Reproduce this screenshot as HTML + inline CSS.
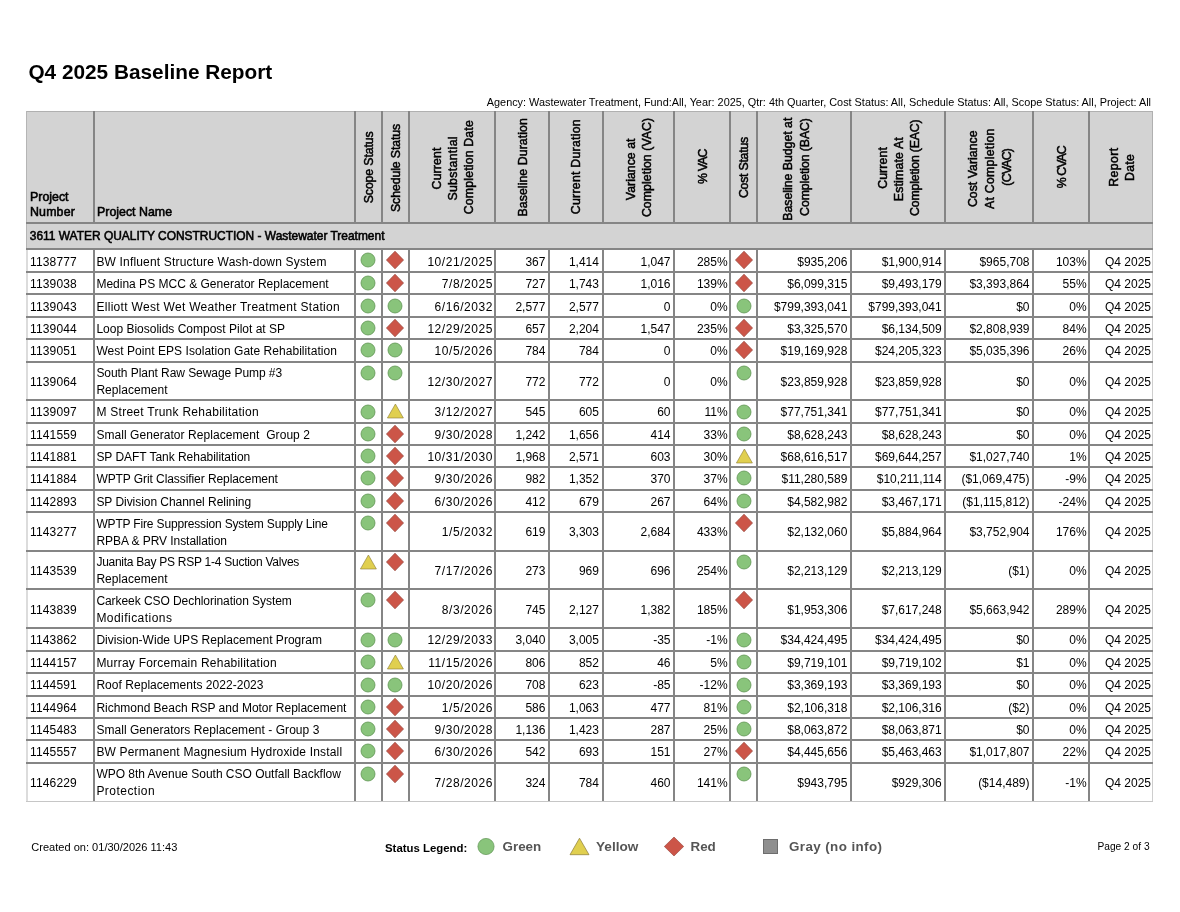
<!DOCTYPE html>
<html><head><meta charset="utf-8"><title>Q4 2025 Baseline Report</title>
<style>
html,body{margin:0;padding:0;background:#fff;}
body{width:1180px;height:912px;position:relative;overflow:hidden;font-family:"Liberation Sans", sans-serif;}
.t{position:absolute;white-space:pre;}
.b{position:absolute;}
.ic{position:absolute;overflow:visible;}
.rt{position:absolute;left:0;top:0;transform-origin:0 0;font-size:12.3px;line-height:12.3px;white-space:pre;-webkit-text-stroke:0.5px #000;}
.rh{position:absolute;display:flex;align-items:center;justify-content:center;text-align:center;-webkit-text-stroke:0.45px #000;white-space:pre;transform:rotate(-90deg);}
</style></head><body><div style="position:absolute;left:0;top:0;width:1180px;height:912px;background:#fff;will-change:transform">

<div class="t" style="top:61.79px;font-size:20.8px;line-height:20.8px;color:#000;font-weight:bold;left:28.40px;">Q4 2025 Baseline Report</div>
<div class="t" style="top:97.11px;font-size:10.86px;line-height:10.86px;color:#000;left:151.00px;width:1000px;text-align:right;">Agency: Wastewater Treatment, Fund:All, Year: 2025, Qtr: 4th Quarter, Cost Status: All, Schedule Status: All, Scope Status: All, Project: All</div>
<div class="b" style="left:26.40px;top:111.00px;width:1126.20px;height:138.10px;background:#d3d3d3"></div>
<div class="b" style="left:26px;top:111px;width:1127px;height:1px;background:#b0b0b0"></div>
<div class="b" style="left:26px;top:111px;width:1px;height:138px;background:#b5b5b5"></div>
<div class="b" style="left:1152px;top:111px;width:1px;height:138px;background:#b0b0b0"></div>
<div class="b" style="left:26px;top:249px;width:2px;height:553px;background:#dcdcdc"></div>
<div class="b" style="left:1152px;top:249px;width:1px;height:553px;background:#cecece"></div>
<div class="b" style="left:26px;top:801px;width:1127px;height:1px;background:#c6c6c6"></div>
<div class="b" style="left:93.00px;top:111.00px;width:2px;height:111.90px;background:#858585"></div>
<div class="b" style="left:353.60px;top:111.00px;width:2px;height:111.90px;background:#858585"></div>
<div class="b" style="left:380.60px;top:111.00px;width:2px;height:111.90px;background:#858585"></div>
<div class="b" style="left:407.80px;top:111.00px;width:2px;height:111.90px;background:#858585"></div>
<div class="b" style="left:494.20px;top:111.00px;width:2px;height:111.90px;background:#858585"></div>
<div class="b" style="left:548.00px;top:111.00px;width:2px;height:111.90px;background:#858585"></div>
<div class="b" style="left:601.50px;top:111.00px;width:2px;height:111.90px;background:#858585"></div>
<div class="b" style="left:673.10px;top:111.00px;width:2px;height:111.90px;background:#858585"></div>
<div class="b" style="left:729.10px;top:111.00px;width:2px;height:111.90px;background:#858585"></div>
<div class="b" style="left:755.90px;top:111.00px;width:2px;height:111.90px;background:#858585"></div>
<div class="b" style="left:849.90px;top:111.00px;width:2px;height:111.90px;background:#858585"></div>
<div class="b" style="left:944.30px;top:111.00px;width:2px;height:111.90px;background:#858585"></div>
<div class="b" style="left:1032.10px;top:111.00px;width:2px;height:111.90px;background:#858585"></div>
<div class="b" style="left:1088.10px;top:111.00px;width:2px;height:111.90px;background:#858585"></div>
<div class="b" style="left:93.00px;top:249.10px;width:2px;height:552.30px;background:#858585"></div>
<div class="b" style="left:353.60px;top:249.10px;width:2px;height:552.30px;background:#858585"></div>
<div class="b" style="left:380.60px;top:249.10px;width:2px;height:552.30px;background:#858585"></div>
<div class="b" style="left:407.80px;top:249.10px;width:2px;height:552.30px;background:#858585"></div>
<div class="b" style="left:494.20px;top:249.10px;width:2px;height:552.30px;background:#858585"></div>
<div class="b" style="left:548.00px;top:249.10px;width:2px;height:552.30px;background:#858585"></div>
<div class="b" style="left:601.50px;top:249.10px;width:2px;height:552.30px;background:#858585"></div>
<div class="b" style="left:673.10px;top:249.10px;width:2px;height:552.30px;background:#858585"></div>
<div class="b" style="left:729.10px;top:249.10px;width:2px;height:552.30px;background:#858585"></div>
<div class="b" style="left:755.90px;top:249.10px;width:2px;height:552.30px;background:#858585"></div>
<div class="b" style="left:849.90px;top:249.10px;width:2px;height:552.30px;background:#858585"></div>
<div class="b" style="left:944.30px;top:249.10px;width:2px;height:552.30px;background:#858585"></div>
<div class="b" style="left:1032.10px;top:249.10px;width:2px;height:552.30px;background:#858585"></div>
<div class="b" style="left:1088.10px;top:249.10px;width:2px;height:552.30px;background:#858585"></div>
<div class="b" style="left:26.40px;top:221.90px;width:1126.20px;height:2px;background:#858585"></div>
<div class="b" style="left:26.40px;top:248.10px;width:1126.20px;height:2px;background:#858585"></div>
<div class="b" style="left:26.40px;top:271.10px;width:1126.20px;height:2px;background:#858585"></div>
<div class="b" style="left:26.40px;top:293.40px;width:1126.20px;height:2px;background:#858585"></div>
<div class="b" style="left:26.40px;top:315.80px;width:1126.20px;height:2px;background:#858585"></div>
<div class="b" style="left:26.40px;top:338.10px;width:1126.20px;height:2px;background:#858585"></div>
<div class="b" style="left:26.40px;top:360.50px;width:1126.20px;height:2px;background:#858585"></div>
<div class="b" style="left:26.40px;top:399.30px;width:1126.20px;height:2px;background:#858585"></div>
<div class="b" style="left:26.40px;top:421.60px;width:1126.20px;height:2px;background:#858585"></div>
<div class="b" style="left:26.40px;top:443.90px;width:1126.20px;height:2px;background:#858585"></div>
<div class="b" style="left:26.40px;top:465.90px;width:1126.20px;height:2px;background:#858585"></div>
<div class="b" style="left:26.40px;top:488.70px;width:1126.20px;height:2px;background:#858585"></div>
<div class="b" style="left:26.40px;top:510.90px;width:1126.20px;height:2px;background:#858585"></div>
<div class="b" style="left:26.40px;top:549.50px;width:1126.20px;height:2px;background:#858585"></div>
<div class="b" style="left:26.40px;top:588.00px;width:1126.20px;height:2px;background:#858585"></div>
<div class="b" style="left:26.40px;top:627.40px;width:1126.20px;height:2px;background:#858585"></div>
<div class="b" style="left:26.40px;top:649.60px;width:1126.20px;height:2px;background:#858585"></div>
<div class="b" style="left:26.40px;top:672.30px;width:1126.20px;height:2px;background:#858585"></div>
<div class="b" style="left:26.40px;top:694.50px;width:1126.20px;height:2px;background:#858585"></div>
<div class="b" style="left:26.40px;top:717.00px;width:1126.20px;height:2px;background:#858585"></div>
<div class="b" style="left:26.40px;top:739.20px;width:1126.20px;height:2px;background:#858585"></div>
<div class="b" style="left:26.40px;top:761.50px;width:1126.20px;height:2px;background:#858585"></div>
<div class="t" style="top:190.50px;font-size:12.4px;line-height:12.4px;color:#000;-webkit-text-stroke:0.55px #000;left:30.00px;">Project</div>
<div class="t" style="top:206.40px;font-size:12.4px;line-height:12.4px;color:#000;letter-spacing:0.15px;-webkit-text-stroke:0.55px #000;left:30.00px;">Number</div>
<div class="t" style="top:206.40px;font-size:12.4px;line-height:12.4px;color:#000;-webkit-text-stroke:0.55px #000;left:97.00px;">Project Name</div>
<div class="rt" style="transform:translate(362.8px,203.2px) rotate(-90deg);letter-spacing:-0.127px">Scope Status</div>
<div class="rt" style="transform:translate(389.7px,212.0px) rotate(-90deg);letter-spacing:-0.093px">Schedule Status</div>
<div class="rt" style="transform:translate(431.0px,189.4px) rotate(-90deg);letter-spacing:0.15px">Current</div>
<div class="rt" style="transform:translate(446.9px,200.6px) rotate(-90deg);letter-spacing:0.33px">Substantial</div>
<div class="rt" style="transform:translate(463.4px,214.2px) rotate(-90deg);letter-spacing:0.171px">Completion Date</div>
<div class="rt" style="transform:translate(517.0px,216.5px) rotate(-90deg);letter-spacing:0.075px">Baseline Duration</div>
<div class="rt" style="transform:translate(570.4px,214.2px) rotate(-90deg);letter-spacing:0.267px">Current Duration</div>
<div class="rt" style="transform:translate(624.8px,200.2px) rotate(-90deg);letter-spacing:0.04px">Variance at</div>
<div class="rt" style="transform:translate(641.0px,217.1px) rotate(-90deg);letter-spacing:0.067px">Completion (VAC)</div>
<div class="rt" style="transform:translate(696.6px,183.9px) rotate(-90deg);letter-spacing:-0.85px">% VAC</div>
<div class="rt" style="transform:translate(738.0px,198.1px) rotate(-90deg);letter-spacing:-0.23px">Cost Status</div>
<div class="rt" style="transform:translate(782.4px,220.7px) rotate(-90deg);letter-spacing:-0.012px">Baseline Budget at</div>
<div class="rt" style="transform:translate(798.8px,215.9px) rotate(-90deg);letter-spacing:-0.087px">Completion (BAC)</div>
<div class="rt" style="transform:translate(877.3px,188.8px) rotate(-90deg);letter-spacing:0.1px">Current</div>
<div class="rt" style="transform:translate(893.0px,201.2px) rotate(-90deg);letter-spacing:0.17px">Estimate At</div>
<div class="rt" style="transform:translate(909.4px,215.9px) rotate(-90deg);letter-spacing:-0.173px">Completion (EAC)</div>
<div class="rt" style="transform:translate(967.4px,207.1px) rotate(-90deg);letter-spacing:0.025px">Cost Variance</div>
<div class="rt" style="transform:translate(983.8px,209.0px) rotate(-90deg);letter-spacing:0.258px">At Completion</div>
<div class="rt" style="transform:translate(1000.8px,185.7px) rotate(-90deg);letter-spacing:-0.76px">(CVAC)</div>
<div class="rt" style="transform:translate(1056.1px,188.2px) rotate(-90deg);letter-spacing:-0.94px">% CVAC</div>
<div class="rt" style="transform:translate(1107.8px,186.7px) rotate(-90deg);letter-spacing:0.38px">Report</div>
<div class="rt" style="transform:translate(1124.2px,181.0px) rotate(-90deg);letter-spacing:0.3px">Date</div>
<div class="t" style="top:231.39px;font-size:11.94px;line-height:11.94px;color:#000;-webkit-text-stroke:0.55px #000;left:29.80px;">3611 WATER QUALITY CONSTRUCTION - Wastewater Treatment</div>
<div class="t" style="top:255.56px;font-size:12.0px;line-height:12.0px;color:#000;letter-spacing:0.12px;left:30.10px;">1138777</div>
<div class="t" style="top:255.56px;font-size:12.0px;line-height:12.0px;color:#000;letter-spacing:0.173px;left:96.40px;">BW Influent Structure Wash-down System</div>
<svg class="ic" style="left:359.10px;top:251.30px" width="18" height="18" viewBox="0 0 18 18"><circle cx="9" cy="9" r="7.0" fill="#89c47b" stroke="#5f9453" stroke-width="0.8"/></svg>
<svg class="ic" style="left:385.20px;top:250.10px" width="20" height="20" viewBox="0 0 20 20"><polygon points="10,1.1999999999999993 18.536,10 10,18.8 1.4640000000000004,10" fill="#cc5548" stroke="#94433a" stroke-width="0.7"/></svg>
<svg class="ic" style="left:733.50px;top:250.10px" width="20" height="20" viewBox="0 0 20 20"><polygon points="10,1.1999999999999993 18.536,10 10,18.8 1.4640000000000004,10" fill="#cc5548" stroke="#94433a" stroke-width="0.7"/></svg>
<div class="t" style="top:255.56px;font-size:12.0px;line-height:12.0px;color:#000;letter-spacing:0.55px;left:-507.05px;width:1000px;text-align:right;">10/21/2025</div>
<div class="t" style="top:255.56px;font-size:12.0px;line-height:12.0px;color:#000;left:-454.60px;width:1000px;text-align:right;">367</div>
<div class="t" style="top:255.56px;font-size:12.0px;line-height:12.0px;color:#000;left:-401.10px;width:1000px;text-align:right;">1,414</div>
<div class="t" style="top:255.56px;font-size:12.0px;line-height:12.0px;color:#000;left:-329.50px;width:1000px;text-align:right;">1,047</div>
<div class="t" style="top:255.56px;font-size:12.0px;line-height:12.0px;color:#000;left:-272.40px;width:1000px;text-align:right;">285%</div>
<div class="t" style="top:255.56px;font-size:12.0px;line-height:12.0px;color:#000;left:-152.70px;width:1000px;text-align:right;">$935,206</div>
<div class="t" style="top:255.56px;font-size:12.0px;line-height:12.0px;color:#000;left:-58.30px;width:1000px;text-align:right;">$1,900,914</div>
<div class="t" style="top:255.56px;font-size:12.0px;line-height:12.0px;color:#000;left:29.50px;width:1000px;text-align:right;">$965,708</div>
<div class="t" style="top:255.56px;font-size:12.0px;line-height:12.0px;color:#000;left:86.60px;width:1000px;text-align:right;">103%</div>
<div class="t" style="top:255.56px;font-size:12.0px;line-height:12.0px;color:#000;left:151.00px;width:1000px;text-align:right;">Q4 2025</div>
<div class="t" style="top:278.21px;font-size:12.0px;line-height:12.0px;color:#000;letter-spacing:0.12px;left:30.10px;">1139038</div>
<div class="t" style="top:278.21px;font-size:12.0px;line-height:12.0px;color:#000;letter-spacing:0.006px;left:96.40px;">Medina PS MCC &amp; Generator Replacement</div>
<svg class="ic" style="left:359.10px;top:274.30px" width="18" height="18" viewBox="0 0 18 18"><circle cx="9" cy="9" r="7.0" fill="#89c47b" stroke="#5f9453" stroke-width="0.8"/></svg>
<svg class="ic" style="left:385.20px;top:273.10px" width="20" height="20" viewBox="0 0 20 20"><polygon points="10,1.1999999999999993 18.536,10 10,18.8 1.4640000000000004,10" fill="#cc5548" stroke="#94433a" stroke-width="0.7"/></svg>
<svg class="ic" style="left:733.50px;top:273.10px" width="20" height="20" viewBox="0 0 20 20"><polygon points="10,1.1999999999999993 18.536,10 10,18.8 1.4640000000000004,10" fill="#cc5548" stroke="#94433a" stroke-width="0.7"/></svg>
<div class="t" style="top:278.21px;font-size:12.0px;line-height:12.0px;color:#000;letter-spacing:0.55px;left:-507.05px;width:1000px;text-align:right;">7/8/2025</div>
<div class="t" style="top:278.21px;font-size:12.0px;line-height:12.0px;color:#000;left:-454.60px;width:1000px;text-align:right;">727</div>
<div class="t" style="top:278.21px;font-size:12.0px;line-height:12.0px;color:#000;left:-401.10px;width:1000px;text-align:right;">1,743</div>
<div class="t" style="top:278.21px;font-size:12.0px;line-height:12.0px;color:#000;left:-329.50px;width:1000px;text-align:right;">1,016</div>
<div class="t" style="top:278.21px;font-size:12.0px;line-height:12.0px;color:#000;left:-272.40px;width:1000px;text-align:right;">139%</div>
<div class="t" style="top:278.21px;font-size:12.0px;line-height:12.0px;color:#000;left:-152.70px;width:1000px;text-align:right;">$6,099,315</div>
<div class="t" style="top:278.21px;font-size:12.0px;line-height:12.0px;color:#000;left:-58.30px;width:1000px;text-align:right;">$9,493,179</div>
<div class="t" style="top:278.21px;font-size:12.0px;line-height:12.0px;color:#000;left:29.50px;width:1000px;text-align:right;">$3,393,864</div>
<div class="t" style="top:278.21px;font-size:12.0px;line-height:12.0px;color:#000;left:86.60px;width:1000px;text-align:right;">55%</div>
<div class="t" style="top:278.21px;font-size:12.0px;line-height:12.0px;color:#000;left:151.00px;width:1000px;text-align:right;">Q4 2025</div>
<div class="t" style="top:300.56px;font-size:12.0px;line-height:12.0px;color:#000;letter-spacing:0.12px;left:30.10px;">1139043</div>
<div class="t" style="top:300.56px;font-size:12.0px;line-height:12.0px;color:#000;letter-spacing:0.307px;left:96.40px;">Elliott West Wet Weather Treatment Station</div>
<svg class="ic" style="left:359.10px;top:296.60px" width="18" height="18" viewBox="0 0 18 18"><circle cx="9" cy="9" r="7.0" fill="#89c47b" stroke="#5f9453" stroke-width="0.8"/></svg>
<svg class="ic" style="left:386.20px;top:296.60px" width="18" height="18" viewBox="0 0 18 18"><circle cx="9" cy="9" r="7.0" fill="#89c47b" stroke="#5f9453" stroke-width="0.8"/></svg>
<svg class="ic" style="left:734.50px;top:296.60px" width="18" height="18" viewBox="0 0 18 18"><circle cx="9" cy="9" r="7.0" fill="#89c47b" stroke="#5f9453" stroke-width="0.8"/></svg>
<div class="t" style="top:300.56px;font-size:12.0px;line-height:12.0px;color:#000;letter-spacing:0.55px;left:-507.05px;width:1000px;text-align:right;">6/16/2032</div>
<div class="t" style="top:300.56px;font-size:12.0px;line-height:12.0px;color:#000;left:-454.60px;width:1000px;text-align:right;">2,577</div>
<div class="t" style="top:300.56px;font-size:12.0px;line-height:12.0px;color:#000;left:-401.10px;width:1000px;text-align:right;">2,577</div>
<div class="t" style="top:300.56px;font-size:12.0px;line-height:12.0px;color:#000;left:-329.50px;width:1000px;text-align:right;">0</div>
<div class="t" style="top:300.56px;font-size:12.0px;line-height:12.0px;color:#000;left:-272.40px;width:1000px;text-align:right;">0%</div>
<div class="t" style="top:300.56px;font-size:12.0px;line-height:12.0px;color:#000;left:-152.70px;width:1000px;text-align:right;">$799,393,041</div>
<div class="t" style="top:300.56px;font-size:12.0px;line-height:12.0px;color:#000;left:-58.30px;width:1000px;text-align:right;">$799,393,041</div>
<div class="t" style="top:300.56px;font-size:12.0px;line-height:12.0px;color:#000;left:29.50px;width:1000px;text-align:right;">$0</div>
<div class="t" style="top:300.56px;font-size:12.0px;line-height:12.0px;color:#000;left:86.60px;width:1000px;text-align:right;">0%</div>
<div class="t" style="top:300.56px;font-size:12.0px;line-height:12.0px;color:#000;left:151.00px;width:1000px;text-align:right;">Q4 2025</div>
<div class="t" style="top:322.91px;font-size:12.0px;line-height:12.0px;color:#000;letter-spacing:0.12px;left:30.10px;">1139044</div>
<div class="t" style="top:322.91px;font-size:12.0px;line-height:12.0px;color:#000;letter-spacing:-0.006px;left:96.40px;">Loop Biosolids Compost Pilot at SP</div>
<svg class="ic" style="left:359.10px;top:319.00px" width="18" height="18" viewBox="0 0 18 18"><circle cx="9" cy="9" r="7.0" fill="#89c47b" stroke="#5f9453" stroke-width="0.8"/></svg>
<svg class="ic" style="left:385.20px;top:317.80px" width="20" height="20" viewBox="0 0 20 20"><polygon points="10,1.1999999999999993 18.536,10 10,18.8 1.4640000000000004,10" fill="#cc5548" stroke="#94433a" stroke-width="0.7"/></svg>
<svg class="ic" style="left:733.50px;top:317.80px" width="20" height="20" viewBox="0 0 20 20"><polygon points="10,1.1999999999999993 18.536,10 10,18.8 1.4640000000000004,10" fill="#cc5548" stroke="#94433a" stroke-width="0.7"/></svg>
<div class="t" style="top:322.91px;font-size:12.0px;line-height:12.0px;color:#000;letter-spacing:0.55px;left:-507.05px;width:1000px;text-align:right;">12/29/2025</div>
<div class="t" style="top:322.91px;font-size:12.0px;line-height:12.0px;color:#000;left:-454.60px;width:1000px;text-align:right;">657</div>
<div class="t" style="top:322.91px;font-size:12.0px;line-height:12.0px;color:#000;left:-401.10px;width:1000px;text-align:right;">2,204</div>
<div class="t" style="top:322.91px;font-size:12.0px;line-height:12.0px;color:#000;left:-329.50px;width:1000px;text-align:right;">1,547</div>
<div class="t" style="top:322.91px;font-size:12.0px;line-height:12.0px;color:#000;left:-272.40px;width:1000px;text-align:right;">235%</div>
<div class="t" style="top:322.91px;font-size:12.0px;line-height:12.0px;color:#000;left:-152.70px;width:1000px;text-align:right;">$3,325,570</div>
<div class="t" style="top:322.91px;font-size:12.0px;line-height:12.0px;color:#000;left:-58.30px;width:1000px;text-align:right;">$6,134,509</div>
<div class="t" style="top:322.91px;font-size:12.0px;line-height:12.0px;color:#000;left:29.50px;width:1000px;text-align:right;">$2,808,939</div>
<div class="t" style="top:322.91px;font-size:12.0px;line-height:12.0px;color:#000;left:86.60px;width:1000px;text-align:right;">84%</div>
<div class="t" style="top:322.91px;font-size:12.0px;line-height:12.0px;color:#000;left:151.00px;width:1000px;text-align:right;">Q4 2025</div>
<div class="t" style="top:345.26px;font-size:12.0px;line-height:12.0px;color:#000;letter-spacing:0.12px;left:30.10px;">1139051</div>
<div class="t" style="top:345.26px;font-size:12.0px;line-height:12.0px;color:#000;letter-spacing:0.044px;left:96.40px;">West Point EPS Isolation Gate Rehabilitation</div>
<svg class="ic" style="left:359.10px;top:341.30px" width="18" height="18" viewBox="0 0 18 18"><circle cx="9" cy="9" r="7.0" fill="#89c47b" stroke="#5f9453" stroke-width="0.8"/></svg>
<svg class="ic" style="left:386.20px;top:341.30px" width="18" height="18" viewBox="0 0 18 18"><circle cx="9" cy="9" r="7.0" fill="#89c47b" stroke="#5f9453" stroke-width="0.8"/></svg>
<svg class="ic" style="left:733.50px;top:340.10px" width="20" height="20" viewBox="0 0 20 20"><polygon points="10,1.1999999999999993 18.536,10 10,18.8 1.4640000000000004,10" fill="#cc5548" stroke="#94433a" stroke-width="0.7"/></svg>
<div class="t" style="top:345.26px;font-size:12.0px;line-height:12.0px;color:#000;letter-spacing:0.55px;left:-507.05px;width:1000px;text-align:right;">10/5/2026</div>
<div class="t" style="top:345.26px;font-size:12.0px;line-height:12.0px;color:#000;left:-454.60px;width:1000px;text-align:right;">784</div>
<div class="t" style="top:345.26px;font-size:12.0px;line-height:12.0px;color:#000;left:-401.10px;width:1000px;text-align:right;">784</div>
<div class="t" style="top:345.26px;font-size:12.0px;line-height:12.0px;color:#000;left:-329.50px;width:1000px;text-align:right;">0</div>
<div class="t" style="top:345.26px;font-size:12.0px;line-height:12.0px;color:#000;left:-272.40px;width:1000px;text-align:right;">0%</div>
<div class="t" style="top:345.26px;font-size:12.0px;line-height:12.0px;color:#000;left:-152.70px;width:1000px;text-align:right;">$19,169,928</div>
<div class="t" style="top:345.26px;font-size:12.0px;line-height:12.0px;color:#000;left:-58.30px;width:1000px;text-align:right;">$24,205,323</div>
<div class="t" style="top:345.26px;font-size:12.0px;line-height:12.0px;color:#000;left:29.50px;width:1000px;text-align:right;">$5,035,396</div>
<div class="t" style="top:345.26px;font-size:12.0px;line-height:12.0px;color:#000;left:86.60px;width:1000px;text-align:right;">26%</div>
<div class="t" style="top:345.26px;font-size:12.0px;line-height:12.0px;color:#000;left:151.00px;width:1000px;text-align:right;">Q4 2025</div>
<div class="t" style="top:375.86px;font-size:12.0px;line-height:12.0px;color:#000;letter-spacing:0.12px;left:30.10px;">1139064</div>
<div class="t" style="top:367.36px;font-size:12.0px;line-height:12.0px;color:#000;letter-spacing:-0.059px;left:96.40px;">South Plant Raw Sewage Pump #3</div>
<div class="t" style="top:384.36px;font-size:12.0px;line-height:12.0px;color:#000;letter-spacing:0.04px;left:96.40px;">Replacement</div>
<svg class="ic" style="left:359.10px;top:363.70px" width="18" height="18" viewBox="0 0 18 18"><circle cx="9" cy="9" r="7.0" fill="#89c47b" stroke="#5f9453" stroke-width="0.8"/></svg>
<svg class="ic" style="left:386.20px;top:363.70px" width="18" height="18" viewBox="0 0 18 18"><circle cx="9" cy="9" r="7.0" fill="#89c47b" stroke="#5f9453" stroke-width="0.8"/></svg>
<svg class="ic" style="left:734.50px;top:363.70px" width="18" height="18" viewBox="0 0 18 18"><circle cx="9" cy="9" r="7.0" fill="#89c47b" stroke="#5f9453" stroke-width="0.8"/></svg>
<div class="t" style="top:375.86px;font-size:12.0px;line-height:12.0px;color:#000;letter-spacing:0.55px;left:-507.05px;width:1000px;text-align:right;">12/30/2027</div>
<div class="t" style="top:375.86px;font-size:12.0px;line-height:12.0px;color:#000;left:-454.60px;width:1000px;text-align:right;">772</div>
<div class="t" style="top:375.86px;font-size:12.0px;line-height:12.0px;color:#000;left:-401.10px;width:1000px;text-align:right;">772</div>
<div class="t" style="top:375.86px;font-size:12.0px;line-height:12.0px;color:#000;left:-329.50px;width:1000px;text-align:right;">0</div>
<div class="t" style="top:375.86px;font-size:12.0px;line-height:12.0px;color:#000;left:-272.40px;width:1000px;text-align:right;">0%</div>
<div class="t" style="top:375.86px;font-size:12.0px;line-height:12.0px;color:#000;left:-152.70px;width:1000px;text-align:right;">$23,859,928</div>
<div class="t" style="top:375.86px;font-size:12.0px;line-height:12.0px;color:#000;left:-58.30px;width:1000px;text-align:right;">$23,859,928</div>
<div class="t" style="top:375.86px;font-size:12.0px;line-height:12.0px;color:#000;left:29.50px;width:1000px;text-align:right;">$0</div>
<div class="t" style="top:375.86px;font-size:12.0px;line-height:12.0px;color:#000;left:86.60px;width:1000px;text-align:right;">0%</div>
<div class="t" style="top:375.86px;font-size:12.0px;line-height:12.0px;color:#000;left:151.00px;width:1000px;text-align:right;">Q4 2025</div>
<div class="t" style="top:406.41px;font-size:12.0px;line-height:12.0px;color:#000;letter-spacing:0.12px;left:30.10px;">1139097</div>
<div class="t" style="top:406.41px;font-size:12.0px;line-height:12.0px;color:#000;letter-spacing:0.268px;left:96.40px;">M Street Trunk Rehabilitation</div>
<svg class="ic" style="left:359.10px;top:402.50px" width="18" height="18" viewBox="0 0 18 18"><circle cx="9" cy="9" r="7.0" fill="#89c47b" stroke="#5f9453" stroke-width="0.8"/></svg>
<svg class="ic" style="left:385.20px;top:401.30px" width="20" height="20" viewBox="0 0 20 20"><polygon points="10.4,3.0 18.4,17.0 2.4,17.0" fill="#e0cf4f" stroke="#8a7a36" stroke-width="0.6"/></svg>
<svg class="ic" style="left:734.50px;top:402.50px" width="18" height="18" viewBox="0 0 18 18"><circle cx="9" cy="9" r="7.0" fill="#89c47b" stroke="#5f9453" stroke-width="0.8"/></svg>
<div class="t" style="top:406.41px;font-size:12.0px;line-height:12.0px;color:#000;letter-spacing:0.55px;left:-507.05px;width:1000px;text-align:right;">3/12/2027</div>
<div class="t" style="top:406.41px;font-size:12.0px;line-height:12.0px;color:#000;left:-454.60px;width:1000px;text-align:right;">545</div>
<div class="t" style="top:406.41px;font-size:12.0px;line-height:12.0px;color:#000;left:-401.10px;width:1000px;text-align:right;">605</div>
<div class="t" style="top:406.41px;font-size:12.0px;line-height:12.0px;color:#000;left:-329.50px;width:1000px;text-align:right;">60</div>
<div class="t" style="top:406.41px;font-size:12.0px;line-height:12.0px;color:#000;left:-272.40px;width:1000px;text-align:right;">11%</div>
<div class="t" style="top:406.41px;font-size:12.0px;line-height:12.0px;color:#000;left:-152.70px;width:1000px;text-align:right;">$77,751,341</div>
<div class="t" style="top:406.41px;font-size:12.0px;line-height:12.0px;color:#000;left:-58.30px;width:1000px;text-align:right;">$77,751,341</div>
<div class="t" style="top:406.41px;font-size:12.0px;line-height:12.0px;color:#000;left:29.50px;width:1000px;text-align:right;">$0</div>
<div class="t" style="top:406.41px;font-size:12.0px;line-height:12.0px;color:#000;left:86.60px;width:1000px;text-align:right;">0%</div>
<div class="t" style="top:406.41px;font-size:12.0px;line-height:12.0px;color:#000;left:151.00px;width:1000px;text-align:right;">Q4 2025</div>
<div class="t" style="top:428.71px;font-size:12.0px;line-height:12.0px;color:#000;letter-spacing:0.12px;left:30.10px;">1141559</div>
<div class="t" style="top:428.71px;font-size:12.0px;line-height:12.0px;color:#000;letter-spacing:0.06px;left:96.40px;">Small Generator Replacement  Group 2</div>
<svg class="ic" style="left:359.10px;top:424.80px" width="18" height="18" viewBox="0 0 18 18"><circle cx="9" cy="9" r="7.0" fill="#89c47b" stroke="#5f9453" stroke-width="0.8"/></svg>
<svg class="ic" style="left:385.20px;top:423.60px" width="20" height="20" viewBox="0 0 20 20"><polygon points="10,1.1999999999999993 18.536,10 10,18.8 1.4640000000000004,10" fill="#cc5548" stroke="#94433a" stroke-width="0.7"/></svg>
<svg class="ic" style="left:734.50px;top:424.80px" width="18" height="18" viewBox="0 0 18 18"><circle cx="9" cy="9" r="7.0" fill="#89c47b" stroke="#5f9453" stroke-width="0.8"/></svg>
<div class="t" style="top:428.71px;font-size:12.0px;line-height:12.0px;color:#000;letter-spacing:0.55px;left:-507.05px;width:1000px;text-align:right;">9/30/2028</div>
<div class="t" style="top:428.71px;font-size:12.0px;line-height:12.0px;color:#000;left:-454.60px;width:1000px;text-align:right;">1,242</div>
<div class="t" style="top:428.71px;font-size:12.0px;line-height:12.0px;color:#000;left:-401.10px;width:1000px;text-align:right;">1,656</div>
<div class="t" style="top:428.71px;font-size:12.0px;line-height:12.0px;color:#000;left:-329.50px;width:1000px;text-align:right;">414</div>
<div class="t" style="top:428.71px;font-size:12.0px;line-height:12.0px;color:#000;left:-272.40px;width:1000px;text-align:right;">33%</div>
<div class="t" style="top:428.71px;font-size:12.0px;line-height:12.0px;color:#000;left:-152.70px;width:1000px;text-align:right;">$8,628,243</div>
<div class="t" style="top:428.71px;font-size:12.0px;line-height:12.0px;color:#000;left:-58.30px;width:1000px;text-align:right;">$8,628,243</div>
<div class="t" style="top:428.71px;font-size:12.0px;line-height:12.0px;color:#000;left:29.50px;width:1000px;text-align:right;">$0</div>
<div class="t" style="top:428.71px;font-size:12.0px;line-height:12.0px;color:#000;left:86.60px;width:1000px;text-align:right;">0%</div>
<div class="t" style="top:428.71px;font-size:12.0px;line-height:12.0px;color:#000;left:151.00px;width:1000px;text-align:right;">Q4 2025</div>
<div class="t" style="top:450.86px;font-size:12.0px;line-height:12.0px;color:#000;letter-spacing:0.12px;left:30.10px;">1141881</div>
<div class="t" style="top:450.86px;font-size:12.0px;line-height:12.0px;color:#000;letter-spacing:-0.035px;left:96.40px;">SP DAFT Tank Rehabilitation</div>
<svg class="ic" style="left:359.10px;top:447.10px" width="18" height="18" viewBox="0 0 18 18"><circle cx="9" cy="9" r="7.0" fill="#89c47b" stroke="#5f9453" stroke-width="0.8"/></svg>
<svg class="ic" style="left:385.20px;top:445.90px" width="20" height="20" viewBox="0 0 20 20"><polygon points="10,1.1999999999999993 18.536,10 10,18.8 1.4640000000000004,10" fill="#cc5548" stroke="#94433a" stroke-width="0.7"/></svg>
<svg class="ic" style="left:733.50px;top:445.90px" width="20" height="20" viewBox="0 0 20 20"><polygon points="10.4,3.0 18.4,17.0 2.4,17.0" fill="#e0cf4f" stroke="#8a7a36" stroke-width="0.6"/></svg>
<div class="t" style="top:450.86px;font-size:12.0px;line-height:12.0px;color:#000;letter-spacing:0.55px;left:-507.05px;width:1000px;text-align:right;">10/31/2030</div>
<div class="t" style="top:450.86px;font-size:12.0px;line-height:12.0px;color:#000;left:-454.60px;width:1000px;text-align:right;">1,968</div>
<div class="t" style="top:450.86px;font-size:12.0px;line-height:12.0px;color:#000;left:-401.10px;width:1000px;text-align:right;">2,571</div>
<div class="t" style="top:450.86px;font-size:12.0px;line-height:12.0px;color:#000;left:-329.50px;width:1000px;text-align:right;">603</div>
<div class="t" style="top:450.86px;font-size:12.0px;line-height:12.0px;color:#000;left:-272.40px;width:1000px;text-align:right;">30%</div>
<div class="t" style="top:450.86px;font-size:12.0px;line-height:12.0px;color:#000;left:-152.70px;width:1000px;text-align:right;">$68,616,517</div>
<div class="t" style="top:450.86px;font-size:12.0px;line-height:12.0px;color:#000;left:-58.30px;width:1000px;text-align:right;">$69,644,257</div>
<div class="t" style="top:450.86px;font-size:12.0px;line-height:12.0px;color:#000;left:29.50px;width:1000px;text-align:right;">$1,027,740</div>
<div class="t" style="top:450.86px;font-size:12.0px;line-height:12.0px;color:#000;left:86.60px;width:1000px;text-align:right;">1%</div>
<div class="t" style="top:450.86px;font-size:12.0px;line-height:12.0px;color:#000;left:151.00px;width:1000px;text-align:right;">Q4 2025</div>
<div class="t" style="top:473.26px;font-size:12.0px;line-height:12.0px;color:#000;letter-spacing:0.12px;left:30.10px;">1141884</div>
<div class="t" style="top:473.26px;font-size:12.0px;line-height:12.0px;color:#000;letter-spacing:-0.077px;left:96.40px;">WPTP Grit Classifier Replacement</div>
<svg class="ic" style="left:359.10px;top:469.10px" width="18" height="18" viewBox="0 0 18 18"><circle cx="9" cy="9" r="7.0" fill="#89c47b" stroke="#5f9453" stroke-width="0.8"/></svg>
<svg class="ic" style="left:385.20px;top:467.90px" width="20" height="20" viewBox="0 0 20 20"><polygon points="10,1.1999999999999993 18.536,10 10,18.8 1.4640000000000004,10" fill="#cc5548" stroke="#94433a" stroke-width="0.7"/></svg>
<svg class="ic" style="left:734.50px;top:469.10px" width="18" height="18" viewBox="0 0 18 18"><circle cx="9" cy="9" r="7.0" fill="#89c47b" stroke="#5f9453" stroke-width="0.8"/></svg>
<div class="t" style="top:473.26px;font-size:12.0px;line-height:12.0px;color:#000;letter-spacing:0.55px;left:-507.05px;width:1000px;text-align:right;">9/30/2026</div>
<div class="t" style="top:473.26px;font-size:12.0px;line-height:12.0px;color:#000;left:-454.60px;width:1000px;text-align:right;">982</div>
<div class="t" style="top:473.26px;font-size:12.0px;line-height:12.0px;color:#000;left:-401.10px;width:1000px;text-align:right;">1,352</div>
<div class="t" style="top:473.26px;font-size:12.0px;line-height:12.0px;color:#000;left:-329.50px;width:1000px;text-align:right;">370</div>
<div class="t" style="top:473.26px;font-size:12.0px;line-height:12.0px;color:#000;left:-272.40px;width:1000px;text-align:right;">37%</div>
<div class="t" style="top:473.26px;font-size:12.0px;line-height:12.0px;color:#000;left:-152.70px;width:1000px;text-align:right;">$11,280,589</div>
<div class="t" style="top:473.26px;font-size:12.0px;line-height:12.0px;color:#000;left:-58.30px;width:1000px;text-align:right;">$10,211,114</div>
<div class="t" style="top:473.26px;font-size:12.0px;line-height:12.0px;color:#000;left:29.50px;width:1000px;text-align:right;">($1,069,475)</div>
<div class="t" style="top:473.26px;font-size:12.0px;line-height:12.0px;color:#000;left:86.60px;width:1000px;text-align:right;">-9%</div>
<div class="t" style="top:473.26px;font-size:12.0px;line-height:12.0px;color:#000;left:151.00px;width:1000px;text-align:right;">Q4 2025</div>
<div class="t" style="top:495.76px;font-size:12.0px;line-height:12.0px;color:#000;letter-spacing:0.12px;left:30.10px;">1142893</div>
<div class="t" style="top:495.76px;font-size:12.0px;line-height:12.0px;color:#000;letter-spacing:-0.044px;left:96.40px;">SP Division Channel Relining</div>
<svg class="ic" style="left:359.10px;top:491.90px" width="18" height="18" viewBox="0 0 18 18"><circle cx="9" cy="9" r="7.0" fill="#89c47b" stroke="#5f9453" stroke-width="0.8"/></svg>
<svg class="ic" style="left:385.20px;top:490.70px" width="20" height="20" viewBox="0 0 20 20"><polygon points="10,1.1999999999999993 18.536,10 10,18.8 1.4640000000000004,10" fill="#cc5548" stroke="#94433a" stroke-width="0.7"/></svg>
<svg class="ic" style="left:734.50px;top:491.90px" width="18" height="18" viewBox="0 0 18 18"><circle cx="9" cy="9" r="7.0" fill="#89c47b" stroke="#5f9453" stroke-width="0.8"/></svg>
<div class="t" style="top:495.76px;font-size:12.0px;line-height:12.0px;color:#000;letter-spacing:0.55px;left:-507.05px;width:1000px;text-align:right;">6/30/2026</div>
<div class="t" style="top:495.76px;font-size:12.0px;line-height:12.0px;color:#000;left:-454.60px;width:1000px;text-align:right;">412</div>
<div class="t" style="top:495.76px;font-size:12.0px;line-height:12.0px;color:#000;left:-401.10px;width:1000px;text-align:right;">679</div>
<div class="t" style="top:495.76px;font-size:12.0px;line-height:12.0px;color:#000;left:-329.50px;width:1000px;text-align:right;">267</div>
<div class="t" style="top:495.76px;font-size:12.0px;line-height:12.0px;color:#000;left:-272.40px;width:1000px;text-align:right;">64%</div>
<div class="t" style="top:495.76px;font-size:12.0px;line-height:12.0px;color:#000;left:-152.70px;width:1000px;text-align:right;">$4,582,982</div>
<div class="t" style="top:495.76px;font-size:12.0px;line-height:12.0px;color:#000;left:-58.30px;width:1000px;text-align:right;">$3,467,171</div>
<div class="t" style="top:495.76px;font-size:12.0px;line-height:12.0px;color:#000;left:29.50px;width:1000px;text-align:right;">($1,115,812)</div>
<div class="t" style="top:495.76px;font-size:12.0px;line-height:12.0px;color:#000;left:86.60px;width:1000px;text-align:right;">-24%</div>
<div class="t" style="top:495.76px;font-size:12.0px;line-height:12.0px;color:#000;left:151.00px;width:1000px;text-align:right;">Q4 2025</div>
<div class="t" style="top:526.16px;font-size:12.0px;line-height:12.0px;color:#000;letter-spacing:0.12px;left:30.10px;">1143277</div>
<div class="t" style="top:517.66px;font-size:12.0px;line-height:12.0px;color:#000;letter-spacing:-0.162px;left:96.40px;">WPTP Fire Suppression System Supply Line</div>
<div class="t" style="top:534.66px;font-size:12.0px;line-height:12.0px;color:#000;letter-spacing:-0.055px;left:96.40px;">RPBA &amp; PRV Installation</div>
<svg class="ic" style="left:359.10px;top:514.10px" width="18" height="18" viewBox="0 0 18 18"><circle cx="9" cy="9" r="7.0" fill="#89c47b" stroke="#5f9453" stroke-width="0.8"/></svg>
<svg class="ic" style="left:385.20px;top:512.90px" width="20" height="20" viewBox="0 0 20 20"><polygon points="10,1.1999999999999993 18.536,10 10,18.8 1.4640000000000004,10" fill="#cc5548" stroke="#94433a" stroke-width="0.7"/></svg>
<svg class="ic" style="left:733.50px;top:512.90px" width="20" height="20" viewBox="0 0 20 20"><polygon points="10,1.1999999999999993 18.536,10 10,18.8 1.4640000000000004,10" fill="#cc5548" stroke="#94433a" stroke-width="0.7"/></svg>
<div class="t" style="top:526.16px;font-size:12.0px;line-height:12.0px;color:#000;letter-spacing:0.55px;left:-507.05px;width:1000px;text-align:right;">1/5/2032</div>
<div class="t" style="top:526.16px;font-size:12.0px;line-height:12.0px;color:#000;left:-454.60px;width:1000px;text-align:right;">619</div>
<div class="t" style="top:526.16px;font-size:12.0px;line-height:12.0px;color:#000;left:-401.10px;width:1000px;text-align:right;">3,303</div>
<div class="t" style="top:526.16px;font-size:12.0px;line-height:12.0px;color:#000;left:-329.50px;width:1000px;text-align:right;">2,684</div>
<div class="t" style="top:526.16px;font-size:12.0px;line-height:12.0px;color:#000;left:-272.40px;width:1000px;text-align:right;">433%</div>
<div class="t" style="top:526.16px;font-size:12.0px;line-height:12.0px;color:#000;left:-152.70px;width:1000px;text-align:right;">$2,132,060</div>
<div class="t" style="top:526.16px;font-size:12.0px;line-height:12.0px;color:#000;left:-58.30px;width:1000px;text-align:right;">$5,884,964</div>
<div class="t" style="top:526.16px;font-size:12.0px;line-height:12.0px;color:#000;left:29.50px;width:1000px;text-align:right;">$3,752,904</div>
<div class="t" style="top:526.16px;font-size:12.0px;line-height:12.0px;color:#000;left:86.60px;width:1000px;text-align:right;">176%</div>
<div class="t" style="top:526.16px;font-size:12.0px;line-height:12.0px;color:#000;left:151.00px;width:1000px;text-align:right;">Q4 2025</div>
<div class="t" style="top:564.71px;font-size:12.0px;line-height:12.0px;color:#000;letter-spacing:0.12px;left:30.10px;">1143539</div>
<div class="t" style="top:556.21px;font-size:12.0px;line-height:12.0px;color:#000;letter-spacing:-0.261px;left:96.40px;">Juanita Bay PS RSP 1-4 Suction Valves</div>
<div class="t" style="top:573.21px;font-size:12.0px;line-height:12.0px;color:#000;letter-spacing:0.04px;left:96.40px;">Replacement</div>
<svg class="ic" style="left:358.10px;top:551.50px" width="20" height="20" viewBox="0 0 20 20"><polygon points="10.4,3.0 18.4,17.0 2.4,17.0" fill="#e0cf4f" stroke="#8a7a36" stroke-width="0.6"/></svg>
<svg class="ic" style="left:385.20px;top:551.50px" width="20" height="20" viewBox="0 0 20 20"><polygon points="10,1.1999999999999993 18.536,10 10,18.8 1.4640000000000004,10" fill="#cc5548" stroke="#94433a" stroke-width="0.7"/></svg>
<svg class="ic" style="left:734.50px;top:552.70px" width="18" height="18" viewBox="0 0 18 18"><circle cx="9" cy="9" r="7.0" fill="#89c47b" stroke="#5f9453" stroke-width="0.8"/></svg>
<div class="t" style="top:564.71px;font-size:12.0px;line-height:12.0px;color:#000;letter-spacing:0.55px;left:-507.05px;width:1000px;text-align:right;">7/17/2026</div>
<div class="t" style="top:564.71px;font-size:12.0px;line-height:12.0px;color:#000;left:-454.60px;width:1000px;text-align:right;">273</div>
<div class="t" style="top:564.71px;font-size:12.0px;line-height:12.0px;color:#000;left:-401.10px;width:1000px;text-align:right;">969</div>
<div class="t" style="top:564.71px;font-size:12.0px;line-height:12.0px;color:#000;left:-329.50px;width:1000px;text-align:right;">696</div>
<div class="t" style="top:564.71px;font-size:12.0px;line-height:12.0px;color:#000;left:-272.40px;width:1000px;text-align:right;">254%</div>
<div class="t" style="top:564.71px;font-size:12.0px;line-height:12.0px;color:#000;left:-152.70px;width:1000px;text-align:right;">$2,213,129</div>
<div class="t" style="top:564.71px;font-size:12.0px;line-height:12.0px;color:#000;left:-58.30px;width:1000px;text-align:right;">$2,213,129</div>
<div class="t" style="top:564.71px;font-size:12.0px;line-height:12.0px;color:#000;left:29.50px;width:1000px;text-align:right;">($1)</div>
<div class="t" style="top:564.71px;font-size:12.0px;line-height:12.0px;color:#000;left:86.60px;width:1000px;text-align:right;">0%</div>
<div class="t" style="top:564.71px;font-size:12.0px;line-height:12.0px;color:#000;left:151.00px;width:1000px;text-align:right;">Q4 2025</div>
<div class="t" style="top:603.66px;font-size:12.0px;line-height:12.0px;color:#000;letter-spacing:0.12px;left:30.10px;">1143839</div>
<div class="t" style="top:595.16px;font-size:12.0px;line-height:12.0px;color:#000;letter-spacing:-0.063px;left:96.40px;">Carkeek CSO Dechlorination System</div>
<div class="t" style="top:612.16px;font-size:12.0px;line-height:12.0px;color:#000;letter-spacing:0.458px;left:96.40px;">Modifications</div>
<svg class="ic" style="left:359.10px;top:591.20px" width="18" height="18" viewBox="0 0 18 18"><circle cx="9" cy="9" r="7.0" fill="#89c47b" stroke="#5f9453" stroke-width="0.8"/></svg>
<svg class="ic" style="left:385.20px;top:590.00px" width="20" height="20" viewBox="0 0 20 20"><polygon points="10,1.1999999999999993 18.536,10 10,18.8 1.4640000000000004,10" fill="#cc5548" stroke="#94433a" stroke-width="0.7"/></svg>
<svg class="ic" style="left:733.50px;top:590.00px" width="20" height="20" viewBox="0 0 20 20"><polygon points="10,1.1999999999999993 18.536,10 10,18.8 1.4640000000000004,10" fill="#cc5548" stroke="#94433a" stroke-width="0.7"/></svg>
<div class="t" style="top:603.66px;font-size:12.0px;line-height:12.0px;color:#000;letter-spacing:0.55px;left:-507.05px;width:1000px;text-align:right;">8/3/2026</div>
<div class="t" style="top:603.66px;font-size:12.0px;line-height:12.0px;color:#000;left:-454.60px;width:1000px;text-align:right;">745</div>
<div class="t" style="top:603.66px;font-size:12.0px;line-height:12.0px;color:#000;left:-401.10px;width:1000px;text-align:right;">2,127</div>
<div class="t" style="top:603.66px;font-size:12.0px;line-height:12.0px;color:#000;left:-329.50px;width:1000px;text-align:right;">1,382</div>
<div class="t" style="top:603.66px;font-size:12.0px;line-height:12.0px;color:#000;left:-272.40px;width:1000px;text-align:right;">185%</div>
<div class="t" style="top:603.66px;font-size:12.0px;line-height:12.0px;color:#000;left:-152.70px;width:1000px;text-align:right;">$1,953,306</div>
<div class="t" style="top:603.66px;font-size:12.0px;line-height:12.0px;color:#000;left:-58.30px;width:1000px;text-align:right;">$7,617,248</div>
<div class="t" style="top:603.66px;font-size:12.0px;line-height:12.0px;color:#000;left:29.50px;width:1000px;text-align:right;">$5,663,942</div>
<div class="t" style="top:603.66px;font-size:12.0px;line-height:12.0px;color:#000;left:86.60px;width:1000px;text-align:right;">289%</div>
<div class="t" style="top:603.66px;font-size:12.0px;line-height:12.0px;color:#000;left:151.00px;width:1000px;text-align:right;">Q4 2025</div>
<div class="t" style="top:634.46px;font-size:12.0px;line-height:12.0px;color:#000;letter-spacing:0.12px;left:30.10px;">1143862</div>
<div class="t" style="top:634.46px;font-size:12.0px;line-height:12.0px;color:#000;letter-spacing:0.025px;left:96.40px;">Division-Wide UPS Replacement Program</div>
<svg class="ic" style="left:359.10px;top:630.60px" width="18" height="18" viewBox="0 0 18 18"><circle cx="9" cy="9" r="7.0" fill="#89c47b" stroke="#5f9453" stroke-width="0.8"/></svg>
<svg class="ic" style="left:386.20px;top:630.60px" width="18" height="18" viewBox="0 0 18 18"><circle cx="9" cy="9" r="7.0" fill="#89c47b" stroke="#5f9453" stroke-width="0.8"/></svg>
<svg class="ic" style="left:734.50px;top:630.60px" width="18" height="18" viewBox="0 0 18 18"><circle cx="9" cy="9" r="7.0" fill="#89c47b" stroke="#5f9453" stroke-width="0.8"/></svg>
<div class="t" style="top:634.46px;font-size:12.0px;line-height:12.0px;color:#000;letter-spacing:0.55px;left:-507.05px;width:1000px;text-align:right;">12/29/2033</div>
<div class="t" style="top:634.46px;font-size:12.0px;line-height:12.0px;color:#000;left:-454.60px;width:1000px;text-align:right;">3,040</div>
<div class="t" style="top:634.46px;font-size:12.0px;line-height:12.0px;color:#000;left:-401.10px;width:1000px;text-align:right;">3,005</div>
<div class="t" style="top:634.46px;font-size:12.0px;line-height:12.0px;color:#000;left:-329.50px;width:1000px;text-align:right;">-35</div>
<div class="t" style="top:634.46px;font-size:12.0px;line-height:12.0px;color:#000;left:-272.40px;width:1000px;text-align:right;">-1%</div>
<div class="t" style="top:634.46px;font-size:12.0px;line-height:12.0px;color:#000;left:-152.70px;width:1000px;text-align:right;">$34,424,495</div>
<div class="t" style="top:634.46px;font-size:12.0px;line-height:12.0px;color:#000;left:-58.30px;width:1000px;text-align:right;">$34,424,495</div>
<div class="t" style="top:634.46px;font-size:12.0px;line-height:12.0px;color:#000;left:29.50px;width:1000px;text-align:right;">$0</div>
<div class="t" style="top:634.46px;font-size:12.0px;line-height:12.0px;color:#000;left:86.60px;width:1000px;text-align:right;">0%</div>
<div class="t" style="top:634.46px;font-size:12.0px;line-height:12.0px;color:#000;left:151.00px;width:1000px;text-align:right;">Q4 2025</div>
<div class="t" style="top:656.91px;font-size:12.0px;line-height:12.0px;color:#000;letter-spacing:0.12px;left:30.10px;">1144157</div>
<div class="t" style="top:656.91px;font-size:12.0px;line-height:12.0px;color:#000;letter-spacing:0.227px;left:96.40px;">Murray Forcemain Rehabilitation</div>
<svg class="ic" style="left:359.10px;top:652.80px" width="18" height="18" viewBox="0 0 18 18"><circle cx="9" cy="9" r="7.0" fill="#89c47b" stroke="#5f9453" stroke-width="0.8"/></svg>
<svg class="ic" style="left:385.20px;top:651.60px" width="20" height="20" viewBox="0 0 20 20"><polygon points="10.4,3.0 18.4,17.0 2.4,17.0" fill="#e0cf4f" stroke="#8a7a36" stroke-width="0.6"/></svg>
<svg class="ic" style="left:734.50px;top:652.80px" width="18" height="18" viewBox="0 0 18 18"><circle cx="9" cy="9" r="7.0" fill="#89c47b" stroke="#5f9453" stroke-width="0.8"/></svg>
<div class="t" style="top:656.91px;font-size:12.0px;line-height:12.0px;color:#000;letter-spacing:0.55px;left:-507.05px;width:1000px;text-align:right;">11/15/2026</div>
<div class="t" style="top:656.91px;font-size:12.0px;line-height:12.0px;color:#000;left:-454.60px;width:1000px;text-align:right;">806</div>
<div class="t" style="top:656.91px;font-size:12.0px;line-height:12.0px;color:#000;left:-401.10px;width:1000px;text-align:right;">852</div>
<div class="t" style="top:656.91px;font-size:12.0px;line-height:12.0px;color:#000;left:-329.50px;width:1000px;text-align:right;">46</div>
<div class="t" style="top:656.91px;font-size:12.0px;line-height:12.0px;color:#000;left:-272.40px;width:1000px;text-align:right;">5%</div>
<div class="t" style="top:656.91px;font-size:12.0px;line-height:12.0px;color:#000;left:-152.70px;width:1000px;text-align:right;">$9,719,101</div>
<div class="t" style="top:656.91px;font-size:12.0px;line-height:12.0px;color:#000;left:-58.30px;width:1000px;text-align:right;">$9,719,102</div>
<div class="t" style="top:656.91px;font-size:12.0px;line-height:12.0px;color:#000;left:29.50px;width:1000px;text-align:right;">$1</div>
<div class="t" style="top:656.91px;font-size:12.0px;line-height:12.0px;color:#000;left:86.60px;width:1000px;text-align:right;">0%</div>
<div class="t" style="top:656.91px;font-size:12.0px;line-height:12.0px;color:#000;left:151.00px;width:1000px;text-align:right;">Q4 2025</div>
<div class="t" style="top:679.36px;font-size:12.0px;line-height:12.0px;color:#000;letter-spacing:0.12px;left:30.10px;">1144591</div>
<div class="t" style="top:679.36px;font-size:12.0px;line-height:12.0px;color:#000;letter-spacing:0.038px;left:96.40px;">Roof Replacements 2022-2023</div>
<svg class="ic" style="left:359.10px;top:675.50px" width="18" height="18" viewBox="0 0 18 18"><circle cx="9" cy="9" r="7.0" fill="#89c47b" stroke="#5f9453" stroke-width="0.8"/></svg>
<svg class="ic" style="left:386.20px;top:675.50px" width="18" height="18" viewBox="0 0 18 18"><circle cx="9" cy="9" r="7.0" fill="#89c47b" stroke="#5f9453" stroke-width="0.8"/></svg>
<svg class="ic" style="left:734.50px;top:675.50px" width="18" height="18" viewBox="0 0 18 18"><circle cx="9" cy="9" r="7.0" fill="#89c47b" stroke="#5f9453" stroke-width="0.8"/></svg>
<div class="t" style="top:679.36px;font-size:12.0px;line-height:12.0px;color:#000;letter-spacing:0.55px;left:-507.05px;width:1000px;text-align:right;">10/20/2026</div>
<div class="t" style="top:679.36px;font-size:12.0px;line-height:12.0px;color:#000;left:-454.60px;width:1000px;text-align:right;">708</div>
<div class="t" style="top:679.36px;font-size:12.0px;line-height:12.0px;color:#000;left:-401.10px;width:1000px;text-align:right;">623</div>
<div class="t" style="top:679.36px;font-size:12.0px;line-height:12.0px;color:#000;left:-329.50px;width:1000px;text-align:right;">-85</div>
<div class="t" style="top:679.36px;font-size:12.0px;line-height:12.0px;color:#000;left:-272.40px;width:1000px;text-align:right;">-12%</div>
<div class="t" style="top:679.36px;font-size:12.0px;line-height:12.0px;color:#000;left:-152.70px;width:1000px;text-align:right;">$3,369,193</div>
<div class="t" style="top:679.36px;font-size:12.0px;line-height:12.0px;color:#000;left:-58.30px;width:1000px;text-align:right;">$3,369,193</div>
<div class="t" style="top:679.36px;font-size:12.0px;line-height:12.0px;color:#000;left:29.50px;width:1000px;text-align:right;">$0</div>
<div class="t" style="top:679.36px;font-size:12.0px;line-height:12.0px;color:#000;left:86.60px;width:1000px;text-align:right;">0%</div>
<div class="t" style="top:679.36px;font-size:12.0px;line-height:12.0px;color:#000;left:151.00px;width:1000px;text-align:right;">Q4 2025</div>
<div class="t" style="top:701.71px;font-size:12.0px;line-height:12.0px;color:#000;letter-spacing:0.12px;left:30.10px;">1144964</div>
<div class="t" style="top:701.71px;font-size:12.0px;line-height:12.0px;color:#000;letter-spacing:-0.015px;left:96.40px;">Richmond Beach RSP and Motor Replacement</div>
<svg class="ic" style="left:359.10px;top:697.70px" width="18" height="18" viewBox="0 0 18 18"><circle cx="9" cy="9" r="7.0" fill="#89c47b" stroke="#5f9453" stroke-width="0.8"/></svg>
<svg class="ic" style="left:385.20px;top:696.50px" width="20" height="20" viewBox="0 0 20 20"><polygon points="10,1.1999999999999993 18.536,10 10,18.8 1.4640000000000004,10" fill="#cc5548" stroke="#94433a" stroke-width="0.7"/></svg>
<svg class="ic" style="left:734.50px;top:697.70px" width="18" height="18" viewBox="0 0 18 18"><circle cx="9" cy="9" r="7.0" fill="#89c47b" stroke="#5f9453" stroke-width="0.8"/></svg>
<div class="t" style="top:701.71px;font-size:12.0px;line-height:12.0px;color:#000;letter-spacing:0.55px;left:-507.05px;width:1000px;text-align:right;">1/5/2026</div>
<div class="t" style="top:701.71px;font-size:12.0px;line-height:12.0px;color:#000;left:-454.60px;width:1000px;text-align:right;">586</div>
<div class="t" style="top:701.71px;font-size:12.0px;line-height:12.0px;color:#000;left:-401.10px;width:1000px;text-align:right;">1,063</div>
<div class="t" style="top:701.71px;font-size:12.0px;line-height:12.0px;color:#000;left:-329.50px;width:1000px;text-align:right;">477</div>
<div class="t" style="top:701.71px;font-size:12.0px;line-height:12.0px;color:#000;left:-272.40px;width:1000px;text-align:right;">81%</div>
<div class="t" style="top:701.71px;font-size:12.0px;line-height:12.0px;color:#000;left:-152.70px;width:1000px;text-align:right;">$2,106,318</div>
<div class="t" style="top:701.71px;font-size:12.0px;line-height:12.0px;color:#000;left:-58.30px;width:1000px;text-align:right;">$2,106,316</div>
<div class="t" style="top:701.71px;font-size:12.0px;line-height:12.0px;color:#000;left:29.50px;width:1000px;text-align:right;">($2)</div>
<div class="t" style="top:701.71px;font-size:12.0px;line-height:12.0px;color:#000;left:86.60px;width:1000px;text-align:right;">0%</div>
<div class="t" style="top:701.71px;font-size:12.0px;line-height:12.0px;color:#000;left:151.00px;width:1000px;text-align:right;">Q4 2025</div>
<div class="t" style="top:724.06px;font-size:12.0px;line-height:12.0px;color:#000;letter-spacing:0.12px;left:30.10px;">1145483</div>
<div class="t" style="top:724.06px;font-size:12.0px;line-height:12.0px;color:#000;letter-spacing:0.041px;left:96.40px;">Small Generators Replacement - Group 3</div>
<svg class="ic" style="left:359.10px;top:720.20px" width="18" height="18" viewBox="0 0 18 18"><circle cx="9" cy="9" r="7.0" fill="#89c47b" stroke="#5f9453" stroke-width="0.8"/></svg>
<svg class="ic" style="left:385.20px;top:719.00px" width="20" height="20" viewBox="0 0 20 20"><polygon points="10,1.1999999999999993 18.536,10 10,18.8 1.4640000000000004,10" fill="#cc5548" stroke="#94433a" stroke-width="0.7"/></svg>
<svg class="ic" style="left:734.50px;top:720.20px" width="18" height="18" viewBox="0 0 18 18"><circle cx="9" cy="9" r="7.0" fill="#89c47b" stroke="#5f9453" stroke-width="0.8"/></svg>
<div class="t" style="top:724.06px;font-size:12.0px;line-height:12.0px;color:#000;letter-spacing:0.55px;left:-507.05px;width:1000px;text-align:right;">9/30/2028</div>
<div class="t" style="top:724.06px;font-size:12.0px;line-height:12.0px;color:#000;left:-454.60px;width:1000px;text-align:right;">1,136</div>
<div class="t" style="top:724.06px;font-size:12.0px;line-height:12.0px;color:#000;left:-401.10px;width:1000px;text-align:right;">1,423</div>
<div class="t" style="top:724.06px;font-size:12.0px;line-height:12.0px;color:#000;left:-329.50px;width:1000px;text-align:right;">287</div>
<div class="t" style="top:724.06px;font-size:12.0px;line-height:12.0px;color:#000;left:-272.40px;width:1000px;text-align:right;">25%</div>
<div class="t" style="top:724.06px;font-size:12.0px;line-height:12.0px;color:#000;left:-152.70px;width:1000px;text-align:right;">$8,063,872</div>
<div class="t" style="top:724.06px;font-size:12.0px;line-height:12.0px;color:#000;left:-58.30px;width:1000px;text-align:right;">$8,063,871</div>
<div class="t" style="top:724.06px;font-size:12.0px;line-height:12.0px;color:#000;left:29.50px;width:1000px;text-align:right;">$0</div>
<div class="t" style="top:724.06px;font-size:12.0px;line-height:12.0px;color:#000;left:86.60px;width:1000px;text-align:right;">0%</div>
<div class="t" style="top:724.06px;font-size:12.0px;line-height:12.0px;color:#000;left:151.00px;width:1000px;text-align:right;">Q4 2025</div>
<div class="t" style="top:746.31px;font-size:12.0px;line-height:12.0px;color:#000;letter-spacing:0.12px;left:30.10px;">1145557</div>
<div class="t" style="top:746.31px;font-size:12.0px;line-height:12.0px;color:#000;letter-spacing:0.177px;left:96.40px;">BW Permanent Magnesium Hydroxide Install</div>
<svg class="ic" style="left:359.10px;top:742.40px" width="18" height="18" viewBox="0 0 18 18"><circle cx="9" cy="9" r="7.0" fill="#89c47b" stroke="#5f9453" stroke-width="0.8"/></svg>
<svg class="ic" style="left:385.20px;top:741.20px" width="20" height="20" viewBox="0 0 20 20"><polygon points="10,1.1999999999999993 18.536,10 10,18.8 1.4640000000000004,10" fill="#cc5548" stroke="#94433a" stroke-width="0.7"/></svg>
<svg class="ic" style="left:733.50px;top:741.20px" width="20" height="20" viewBox="0 0 20 20"><polygon points="10,1.1999999999999993 18.536,10 10,18.8 1.4640000000000004,10" fill="#cc5548" stroke="#94433a" stroke-width="0.7"/></svg>
<div class="t" style="top:746.31px;font-size:12.0px;line-height:12.0px;color:#000;letter-spacing:0.55px;left:-507.05px;width:1000px;text-align:right;">6/30/2026</div>
<div class="t" style="top:746.31px;font-size:12.0px;line-height:12.0px;color:#000;left:-454.60px;width:1000px;text-align:right;">542</div>
<div class="t" style="top:746.31px;font-size:12.0px;line-height:12.0px;color:#000;left:-401.10px;width:1000px;text-align:right;">693</div>
<div class="t" style="top:746.31px;font-size:12.0px;line-height:12.0px;color:#000;left:-329.50px;width:1000px;text-align:right;">151</div>
<div class="t" style="top:746.31px;font-size:12.0px;line-height:12.0px;color:#000;left:-272.40px;width:1000px;text-align:right;">27%</div>
<div class="t" style="top:746.31px;font-size:12.0px;line-height:12.0px;color:#000;left:-152.70px;width:1000px;text-align:right;">$4,445,656</div>
<div class="t" style="top:746.31px;font-size:12.0px;line-height:12.0px;color:#000;left:-58.30px;width:1000px;text-align:right;">$5,463,463</div>
<div class="t" style="top:746.31px;font-size:12.0px;line-height:12.0px;color:#000;left:29.50px;width:1000px;text-align:right;">$1,017,807</div>
<div class="t" style="top:746.31px;font-size:12.0px;line-height:12.0px;color:#000;left:86.60px;width:1000px;text-align:right;">22%</div>
<div class="t" style="top:746.31px;font-size:12.0px;line-height:12.0px;color:#000;left:151.00px;width:1000px;text-align:right;">Q4 2025</div>
<div class="t" style="top:776.91px;font-size:12.0px;line-height:12.0px;color:#000;letter-spacing:0.12px;left:30.10px;">1146229</div>
<div class="t" style="top:768.41px;font-size:12.0px;line-height:12.0px;color:#000;letter-spacing:-0.018px;left:96.40px;">WPO 8th Avenue South CSO Outfall Backflow</div>
<div class="t" style="top:785.41px;font-size:12.0px;line-height:12.0px;color:#000;letter-spacing:0.467px;left:96.40px;">Protection</div>
<svg class="ic" style="left:359.10px;top:764.70px" width="18" height="18" viewBox="0 0 18 18"><circle cx="9" cy="9" r="7.0" fill="#89c47b" stroke="#5f9453" stroke-width="0.8"/></svg>
<svg class="ic" style="left:385.20px;top:763.50px" width="20" height="20" viewBox="0 0 20 20"><polygon points="10,1.1999999999999993 18.536,10 10,18.8 1.4640000000000004,10" fill="#cc5548" stroke="#94433a" stroke-width="0.7"/></svg>
<svg class="ic" style="left:734.50px;top:764.70px" width="18" height="18" viewBox="0 0 18 18"><circle cx="9" cy="9" r="7.0" fill="#89c47b" stroke="#5f9453" stroke-width="0.8"/></svg>
<div class="t" style="top:776.91px;font-size:12.0px;line-height:12.0px;color:#000;letter-spacing:0.55px;left:-507.05px;width:1000px;text-align:right;">7/28/2026</div>
<div class="t" style="top:776.91px;font-size:12.0px;line-height:12.0px;color:#000;left:-454.60px;width:1000px;text-align:right;">324</div>
<div class="t" style="top:776.91px;font-size:12.0px;line-height:12.0px;color:#000;left:-401.10px;width:1000px;text-align:right;">784</div>
<div class="t" style="top:776.91px;font-size:12.0px;line-height:12.0px;color:#000;left:-329.50px;width:1000px;text-align:right;">460</div>
<div class="t" style="top:776.91px;font-size:12.0px;line-height:12.0px;color:#000;left:-272.40px;width:1000px;text-align:right;">141%</div>
<div class="t" style="top:776.91px;font-size:12.0px;line-height:12.0px;color:#000;left:-152.70px;width:1000px;text-align:right;">$943,795</div>
<div class="t" style="top:776.91px;font-size:12.0px;line-height:12.0px;color:#000;left:-58.30px;width:1000px;text-align:right;">$929,306</div>
<div class="t" style="top:776.91px;font-size:12.0px;line-height:12.0px;color:#000;left:29.50px;width:1000px;text-align:right;">($14,489)</div>
<div class="t" style="top:776.91px;font-size:12.0px;line-height:12.0px;color:#000;left:86.60px;width:1000px;text-align:right;">-1%</div>
<div class="t" style="top:776.91px;font-size:12.0px;line-height:12.0px;color:#000;left:151.00px;width:1000px;text-align:right;">Q4 2025</div>
<div class="t" style="top:842.05px;font-size:11.05px;line-height:11.05px;color:#000;left:31.30px;">Created on: 01/30/2026 11:43</div>
<div class="t" style="top:842.55px;font-size:11.4px;line-height:11.4px;color:#000;font-weight:bold;left:385.00px;">Status Legend:</div>
<svg class="ic" style="left:476px;top:837px" width="20" height="20" viewBox="0 0 20 20"><circle cx="10" cy="9.5" r="8.1" fill="#89c47b" stroke="#5f9453" stroke-width="0.7"/></svg>
<div class="t" style="top:840.26px;font-size:13.4px;line-height:13.4px;color:#555;font-weight:bold;left:502.50px;">Green</div>
<svg class="ic" style="left:569px;top:836px" width="22" height="20" viewBox="0 0 22 20"><polygon points="10.5,2.2 20,18.7 1,18.7" fill="#e0cf4f" stroke="#8a7a36" stroke-width="0.7"/></svg>
<div class="t" style="top:840.09px;font-size:13.6px;line-height:13.6px;color:#555;font-weight:bold;left:596.00px;">Yellow</div>
<svg class="ic" style="left:663px;top:836px" width="22" height="22" viewBox="0 0 22 22"><polygon points="11,1 20.7,10.5 11,20 1.3,10.5" fill="#cc5548" stroke="#94433a" stroke-width="0.6"/></svg>
<div class="t" style="top:840.26px;font-size:13.4px;line-height:13.4px;color:#555;font-weight:bold;left:690.50px;">Red</div>
<div class="b" style="left:762.7px;top:839.3px;width:13.6px;height:12.6px;background:#8f8f8f;border:0.7px solid #6d6d6d"></div>
<div class="t" style="top:840.26px;font-size:13.4px;line-height:13.4px;color:#555;font-weight:bold;letter-spacing:0.4px;left:789.00px;">Gray (no info)</div>
<div class="t" style="top:841.77px;font-size:10.2px;line-height:10.2px;color:#000;left:149.60px;width:1000px;text-align:right;">Page 2 of 3</div>
</div></body></html>
